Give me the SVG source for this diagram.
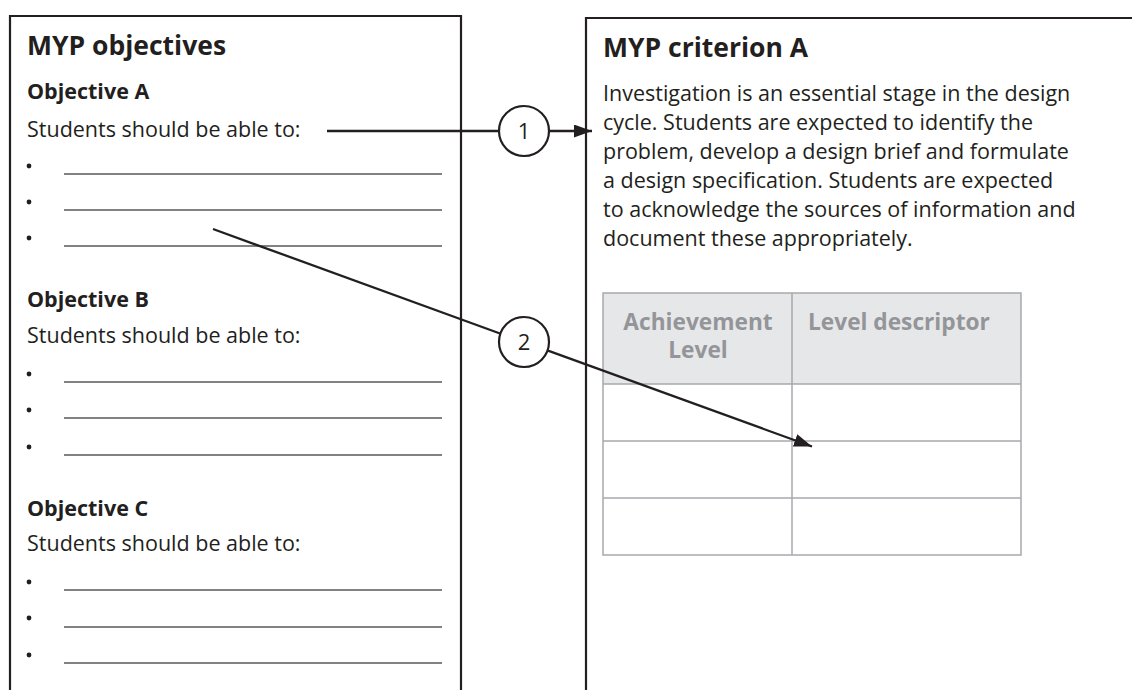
<svg xmlns="http://www.w3.org/2000/svg" width="1132" height="690" viewBox="0 0 1132 690">
<defs>
<style>
.box{fill:none;stroke:#231f20;stroke-width:2.2}
.t{font-family:"Open Sans","Noto Sans","Liberation Sans",sans-serif;fill:#231f20}
.h1{font-size:26.5px;font-weight:bold}
.h2{font-size:21.5px;font-weight:bold}
.b{font-size:21.5px}
.ul{stroke:#58595b;stroke-width:1.3}
.dot{fill:#231f20}
.cell{fill:none;stroke:#a7a9ac;stroke-width:1.5}
.th{font-family:"Open Sans","Noto Sans","Liberation Sans",sans-serif;font-size:22.7px;font-weight:bold;fill:#939598}
.conn{stroke:#231f20;stroke-width:2.3;fill:none}
.circ{fill:#fff;stroke:#231f20;stroke-width:2.2}
.num{font-family:"Open Sans","Noto Sans","Liberation Sans",sans-serif;font-size:22px;fill:#231f20;text-anchor:middle}
</style>
<marker id="arr" viewBox="0 0 10 10" refX="10" refY="5" markerWidth="18" markerHeight="13" markerUnits="userSpaceOnUse" orient="auto" preserveAspectRatio="none">
<path d="M0,0 L10,5 L0,10 z" fill="#231f20"/>
</marker>
</defs>
<rect width="1132" height="690" fill="#fff"/>

<g id="objectives">
<path class="box" d="M10,692 V16 H461 V692"/>
<text class="t h1" x="27" y="55">MYP objectives</text>
<text class="t h2" x="27" y="99">Objective A</text>
<text class="t b" x="27" y="137">Students should be able to:</text>
<circle class="dot" cx="29" cy="166" r="2.4"/><line class="ul" x1="64" y1="174" x2="442" y2="174"/>
<circle class="dot" cx="29" cy="202" r="2.4"/><line class="ul" x1="64" y1="210" x2="442" y2="210"/>
<circle class="dot" cx="29" cy="238" r="2.4"/><line class="ul" x1="64" y1="246" x2="442" y2="246"/>
<text class="t h2" x="27" y="307">Objective B</text>
<text class="t b" x="27" y="343">Students should be able to:</text>
<circle class="dot" cx="29" cy="374" r="2.4"/><line class="ul" x1="64" y1="382" x2="442" y2="382"/>
<circle class="dot" cx="29" cy="410" r="2.4"/><line class="ul" x1="64" y1="418" x2="442" y2="418"/>
<circle class="dot" cx="29" cy="447" r="2.4"/><line class="ul" x1="64" y1="455" x2="442" y2="455"/>
<text class="t h2" x="27" y="516">Objective C</text>
<text class="t b" x="27" y="551">Students should be able to:</text>
<circle class="dot" cx="29" cy="582" r="2.4"/><line class="ul" x1="64" y1="590" x2="442" y2="590"/>
<circle class="dot" cx="29" cy="618" r="2.4"/><line class="ul" x1="64" y1="627" x2="442" y2="627"/>
<circle class="dot" cx="29" cy="655" r="2.4"/><line class="ul" x1="64" y1="663" x2="442" y2="663"/>
</g>

<g id="criterion">
<path class="box" d="M586,692 V18 H1134"/>
<text class="t h1" x="603" y="57">MYP criterion A</text>
<text class="t b" x="603" y="101">Investigation is an essential stage in the design</text>
<text class="t b" x="603" y="130">cycle. Students are expected to identify the</text>
<text class="t b" x="603" y="159">problem, develop a design brief and formulate</text>
<text class="t b" x="603" y="188">a design specification. Students are expected</text>
<text class="t b" x="603" y="217">to acknowledge the sources of information and</text>
<text class="t b" x="603" y="246">document these appropriately.</text>
</g>

<g id="table">
<rect x="603" y="293" width="418" height="91" fill="#e6e7e8"/>
<rect class="cell" x="603" y="293" width="418" height="262"/>
<line class="cell" x1="603" y1="384" x2="1021" y2="384"/>
<line class="cell" x1="603" y1="441" x2="1021" y2="441"/>
<line class="cell" x1="603" y1="498" x2="1021" y2="498"/>
<line class="cell" x1="792" y1="293" x2="792" y2="555"/>
<text class="th" x="698" y="330" text-anchor="middle">Achievement</text>
<text class="th" x="698" y="358" text-anchor="middle">Level</text>
<text class="th" x="808" y="330">Level descriptor</text>
</g>

<g id="connectors">
<line class="conn" x1="327" y1="131" x2="499" y2="131"/>
<line class="conn" x1="549" y1="131" x2="592" y2="131" marker-end="url(#arr)"/>
<line class="conn" x1="213" y1="229" x2="500" y2="333.5"/>
<line class="conn" x1="548" y1="350.7" x2="812" y2="446.5" marker-end="url(#arr)"/>
</g>

<g id="label1">
<circle class="circ" cx="524" cy="131" r="25"/>
<text class="num" x="524" y="139">1</text>
</g>
<g id="label2">
<circle class="circ" cx="524" cy="342" r="25"/>
<text class="num" x="524" y="350">2</text>
</g>
</svg>
